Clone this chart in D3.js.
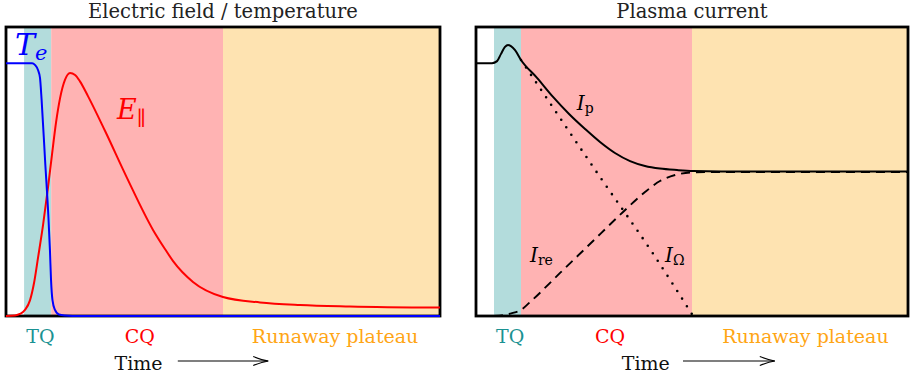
<!DOCTYPE html>
<html>
<head>
<meta charset="utf-8">
<script src="https://cdn.jsdelivr.net/npm/d3@7"></script>
<style>
  body { margin: 0; background: #fff; }
  svg { display: block; }
  text { font-family: "DejaVu Serif", "Liberation Serif", serif; }
</style>
</head>
<body>
<svg id="chart" width="911" height="377"></svg>
<script>
// Disruption phases (arbitrary time units)
const phaseNames = ["TQ", "CQ", "Runaway plateau"];
const phaseStart = [1, 2.5, 12];
const phaseEnd   = [2.5, 12, 24];

// Electron temperature (normalised)
const teTime  = [0, 1.44, 1.60, 1.77, 1.88, 1.97, 2.16, 2.34, 2.43, 2.49, 2.57, 2.71, 2.93, 3.26, 4.09, 24];
const teValue = [0.875, 0.875, 0.869, 0.851, 0.824, 0.747, 0.540, 0.349, 0.228, 0.125, 0.055, 0.021, 0.005, 0.002, 0, 0];

// Parallel electric field (normalised)
const eTime  = [0, 0.50, 0.77, 1.05, 1.33, 1.55, 1.77, 2.05, 2.32, 2.54, 2.77, 2.99, 3.26, 3.54, 3.82, 4.09, 4.54, 5.48, 6.69, 8.13, 8.79, 9.24, 10.34, 12.0, 14.05, 16.26, 19.02, 24];
const eValue = [0, 0.002, 0.007, 0.021, 0.055, 0.114, 0.201, 0.315, 0.443, 0.557, 0.671, 0.754, 0.817, 0.841, 0.834, 0.812, 0.760, 0.640, 0.478, 0.298, 0.232, 0.190, 0.118, 0.066, 0.047, 0.038, 0.033, 0.029];

// Total plasma current
const ipTime  = [0, 0.89, 1.17, 1.39, 1.61, 1.78, 1.94, 2.17, 2.5, 3.39, 4.28, 5.17, 6.06, 6.89, 7.72, 8.56, 9.39, 10.22, 11.17, 12.06, 15.22, 24];
const ipValue = [0.875, 0.875, 0.882, 0.907, 0.931, 0.938, 0.934, 0.920, 0.886, 0.824, 0.758, 0.699, 0.647, 0.602, 0.564, 0.536, 0.519, 0.510, 0.505, 0.502, 0.500, 0.500];

// Runaway electron current
const ireTime  = [1.0, 1.5, 2.0, 2.5, 3.0, 4.67, 6.33, 8.17, 9.39, 10.22, 11.06, 12.06, 13.56, 24];
const ireValue = [0, 0.003, 0.010, 0.021, 0.048, 0.149, 0.249, 0.360, 0.429, 0.467, 0.488, 0.497, 0.498, 0.498];

// Ohmic current
const iohmTime  = [2.5, 4.0, 6.89, 9.78, 12.06];
const iohmValue = [0.886, 0.747, 0.481, 0.221, 0.0];

const phaseFill = ["#b3dcdc", "#ffb3b3", "#fee3b1"];
const phaseText = ["#1a9292", "#ff0000", "#ffa514"];

const svg = d3.select("#chart");
const plotTop = 27, plotBottom = 316;

const panels = [
  { title: "Electric field / temperature", x0: 6, x1: 440,
    phaseLabelT: [1.9, 7.4, 18.2], timeT: 6.0, arrowT: [9.5, 14.5] },
  { title: "Plasma current", x0: 476, x1: 908,
    phaseLabelT: [1.9, 7.45, 18.3], timeT: 8.1, arrowT: [11.5, 16.6] }
];

const zip = (t, v) => t.map((d, i) => ({ t: d, v: v[i] }));

panels.forEach(p => {
  const x = d3.scaleLinear().domain([0, 24]).range([p.x0, p.x1]);
  const y = d3.scaleLinear().domain([0, 1]).range([plotBottom, plotTop]);
  const g = svg.append("g");
  p.x = x; p.y = y; p.g = g;

  // phase bands
  g.selectAll("rect.phase").data(phaseNames).join("rect")
    .attr("class", "phase")
    .attr("x", (d, i) => x(phaseStart[i]))
    .attr("y", plotTop)
    .attr("width", (d, i) => x(phaseEnd[i]) - x(phaseStart[i]))
    .attr("height", plotBottom - plotTop)
    .attr("fill", (d, i) => phaseFill[i]);

  // frame
  g.append("rect")
    .attr("x", p.x0).attr("y", plotTop)
    .attr("width", p.x1 - p.x0).attr("height", plotBottom - plotTop)
    .attr("fill", "none").attr("stroke", "#000").attr("stroke-width", 2.8);

  // title
  g.append("text")
    .attr("x", (p.x0 + p.x1) / 2).attr("y", 18)
    .attr("text-anchor", "middle").attr("font-size", 19.5).attr("fill", "#222")
    .text(p.title);

  // phase labels
  g.selectAll("text.phase").data(phaseNames).join("text")
    .attr("class", "phase")
    .attr("x", (d, i) => x(p.phaseLabelT[i]))
    .attr("y", 343)
    .attr("text-anchor", "middle").attr("font-size", 19)
    .attr("fill", (d, i) => phaseText[i])
    .text(d => d);

  // time label and arrow
  g.append("text")
    .attr("x", x(p.timeT)).attr("y", 370)
    .attr("font-size", 19).attr("fill", "#111")
    .text("Time");
  const ay = 361, a0 = x(p.arrowT[0]), a1 = x(p.arrowT[1]);
  g.append("line")
    .attr("x1", a0).attr("x2", a1).attr("y1", ay).attr("y2", ay)
    .attr("stroke", "#000").attr("stroke-width", 1.1);
  g.append("path")
    .attr("d", `M${a1 - 15},${ay - 4.5} Q${a1 - 6},${ay - 1} ${a1},${ay} Q${a1 - 6},${ay + 1} ${a1 - 15},${ay + 4.5}`)
    .attr("fill", "none").attr("stroke", "#000").attr("stroke-width", 1.1);
});

function curve(p, data, color, width, dash) {
  const line = d3.line().x(d => p.x(d.t)).y(d => p.y(d.v)).curve(d3.curveMonotoneX);
  const path = p.g.append("path")
    .datum(data)
    .attr("d", line)
    .attr("fill", "none")
    .attr("stroke", color)
    .attr("stroke-width", width)
    .attr("stroke-linejoin", "round");
  if (dash) path.attr("stroke-dasharray", dash.array).attr("stroke-linecap", dash.cap || "butt");
  return path;
}

const L = panels[0], R = panels[1];

// left panel: electric field and temperature
curve(L, zip(eTime, eValue), "#ff0000", 2);
curve(L, zip(teTime, teValue), "#0000ff", 2);

// right panel: currents
curve(R, zip(iohmTime, iohmValue), "#000", 2.6, { array: "0 9", cap: "round" });
curve(R, zip(ireTime, ireValue), "#000", 1.9, { array: "9 6" });
curve(R, zip(ipTime, ipValue), "#000", 2);

// curve labels
function mathLabel(p, t, v, main, sub, color, size, subSize, dy, subItalic) {
  const txt = p.g.append("text")
    .attr("x", p.x(t)).attr("y", p.y(v))
    .attr("fill", color);
  txt.append("tspan").attr("font-size", size).attr("font-style", "italic").text(main);
  txt.append("tspan").attr("font-size", subSize).attr("dy", dy)
    .attr("font-style", subItalic ? "italic" : "normal").text(sub);
}

mathLabel(L, 0.5, 0.903, "T", "e", "#0000ff", 30, 21, 5, true);
mathLabel(L, 6.14, 0.682, "E", "\u2225", "#ff0000", 27, 20, 6, false);
mathLabel(R, 5.6, 0.713, "I", "p", "#000", 20, 14, 3, false);
mathLabel(R, 3.0, 0.187, "I", "re", "#000", 20, 14, 3, false);
mathLabel(R, 10.5, 0.187, "I", "\u03A9", "#000", 20, 14, 3, false);
</script>
</body>
</html>
